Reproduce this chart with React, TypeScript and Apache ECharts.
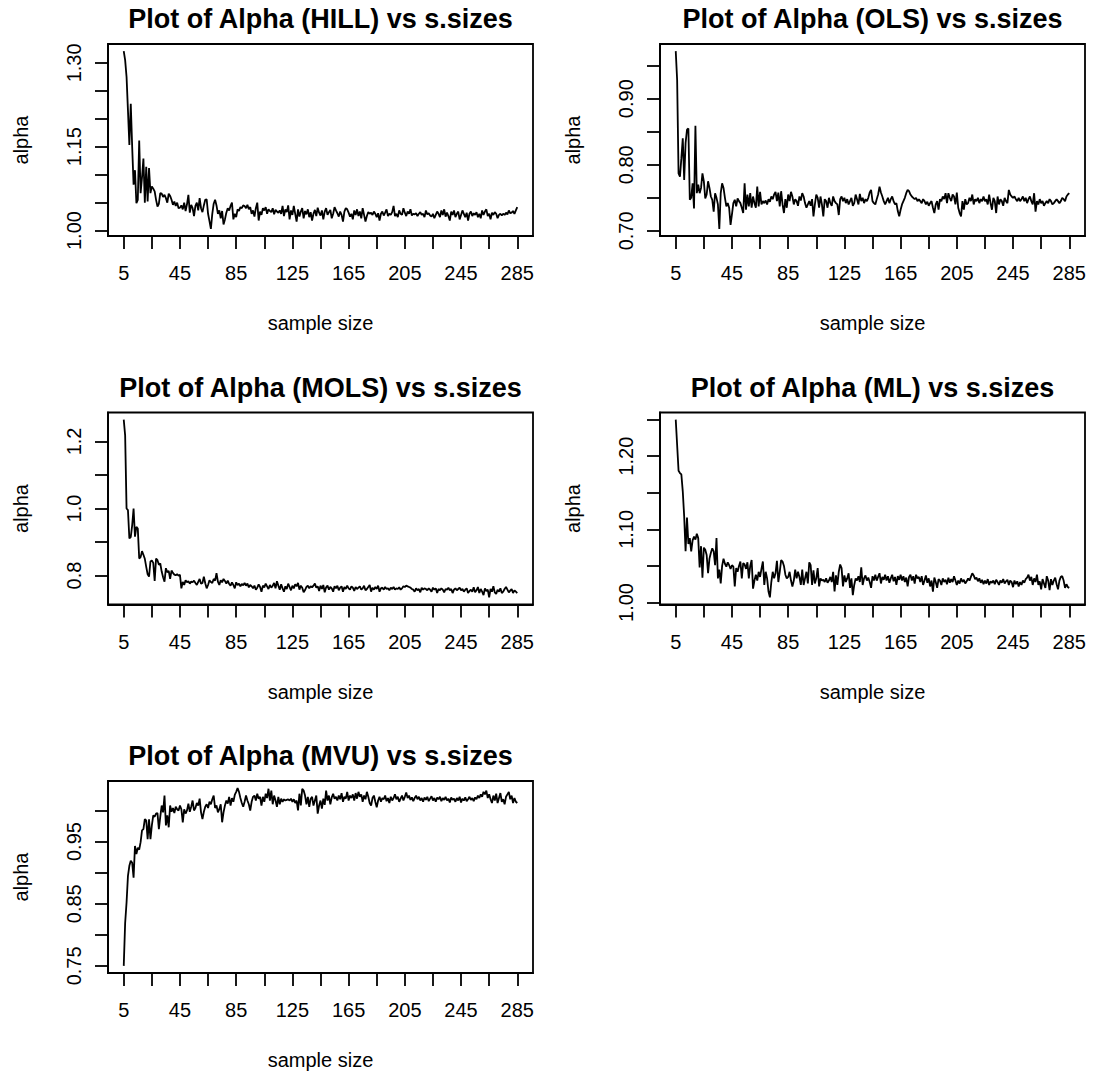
import { useEffect, useRef } from "react";
import * as echarts from "echarts";

// sample sizes 5..285
const sampleSizes: number[] = Array.from({ length: 281 }, (_, i) => 5 + i);
const xTickValues = [5, 25, 45, 65, 85, 105, 125, 145, 165, 185, 205, 225, 245, 265, 285];
const xLabelValues = [5, 45, 85, 125, 165, 205, 245, 285];

const alphaHill = [
  1.321, 1.305, 1.275, 1.215, 1.153, 1.227, 1.150, 1.082, 1.108, 1.049,
  1.055, 1.161, 1.067, 1.095, 1.129, 1.050, 1.114, 1.052, 1.112, 1.067,
  1.079, 1.075, 1.070, 1.055, 1.043, 1.048, 1.067, 1.066, 1.060, 1.064,
  1.058, 1.050, 1.066, 1.062, 1.055, 1.046, 1.052, 1.044, 1.050, 1.040,
  1.041, 1.045, 1.038, 1.050, 1.035, 1.047, 1.064, 1.032, 1.046, 1.040,
  1.026, 1.044, 1.050, 1.036, 1.058, 1.040, 1.033, 1.045, 1.055, 1.056,
  1.030, 1.017, 1.003, 1.030, 1.048, 1.055, 1.045, 1.030, 1.036, 1.022,
  1.035, 1.011, 1.020, 1.032, 1.040, 1.036, 1.044, 1.050, 1.020, 1.030,
  1.024, 1.038, 1.035, 1.042, 1.040, 1.045, 1.044, 1.040, 1.046, 1.038,
  1.042, 1.030, 1.036, 1.025, 1.040, 1.050, 1.018, 1.034, 1.028, 1.040,
  1.036, 1.042, 1.030, 1.038, 1.035, 1.033, 1.040, 1.029, 1.037, 1.034,
  1.032, 1.036, 1.030, 1.044, 1.026, 1.038, 1.033, 1.045, 1.020, 1.036,
  1.028, 1.044, 1.030, 1.016, 1.038, 1.025, 1.034, 1.040, 1.022, 1.035,
  1.029, 1.038, 1.024, 1.033, 1.018, 1.030, 1.037, 1.026, 1.041, 1.032,
  1.027, 1.036, 1.020, 1.034, 1.040, 1.028, 1.033, 1.037, 1.022, 1.030,
  1.042, 1.036, 1.031, 1.025, 1.034, 1.028, 1.016, 1.034, 1.040, 1.038,
  1.032, 1.025, 1.030, 1.020, 1.036, 1.028, 1.038, 1.026, 1.034, 1.022,
  1.040, 1.028, 1.016, 1.026, 1.033, 1.030, 1.032, 1.028, 1.034, 1.030,
  1.024, 1.031, 1.018, 1.030, 1.034, 1.027, 1.032, 1.038, 1.026, 1.030,
  1.028, 1.033, 1.044, 1.026, 1.030, 1.024, 1.036, 1.030, 1.028, 1.040,
  1.032, 1.026, 1.034, 1.030, 1.038, 1.027, 1.030, 1.029, 1.031, 1.026,
  1.030, 1.033, 1.028, 1.030, 1.024, 1.036, 1.029, 1.031, 1.027, 1.025,
  1.030, 1.022, 1.028, 1.034, 1.030, 1.024, 1.036, 1.028, 1.038, 1.025,
  1.032, 1.026, 1.018, 1.034, 1.028, 1.036, 1.024, 1.030, 1.034, 1.020,
  1.028, 1.036, 1.030, 1.024, 1.032, 1.018, 1.030, 1.034, 1.026, 1.031,
  1.028, 1.033, 1.024, 1.030, 1.022, 1.036, 1.028, 1.034, 1.038, 1.026,
  1.030, 1.020, 1.032, 1.028, 1.033, 1.030, 1.022, 1.028, 1.030, 1.027,
  1.030, 1.028, 1.032, 1.029, 1.036, 1.031, 1.032, 1.035, 1.030, 1.036,
  1.042,
];

const alphaOls = [
  0.972, 0.928, 0.787, 0.782, 0.810, 0.840, 0.777, 0.833, 0.853, 0.855,
  0.747, 0.750, 0.772, 0.734, 0.859, 0.757, 0.770, 0.757, 0.765, 0.787,
  0.775, 0.749, 0.755, 0.775, 0.765, 0.752, 0.747, 0.729, 0.757, 0.750,
  0.740, 0.703, 0.757, 0.772, 0.765, 0.750, 0.737, 0.742, 0.735, 0.709,
  0.725, 0.742, 0.747, 0.737, 0.749, 0.745, 0.742, 0.735, 0.727, 0.772,
  0.732, 0.755, 0.737, 0.757, 0.735, 0.752, 0.742, 0.735, 0.767, 0.737,
  0.759, 0.740, 0.745, 0.742, 0.746, 0.740, 0.748, 0.744, 0.752, 0.748,
  0.755, 0.759, 0.745, 0.758, 0.737, 0.760, 0.740, 0.727, 0.748, 0.735,
  0.755, 0.745, 0.759, 0.752, 0.740, 0.748, 0.745, 0.738, 0.752, 0.746,
  0.757, 0.752, 0.742, 0.735, 0.740, 0.745, 0.738, 0.748, 0.722, 0.740,
  0.755, 0.750, 0.735, 0.752, 0.740, 0.722, 0.748, 0.745, 0.735, 0.750,
  0.742, 0.738, 0.752, 0.745, 0.742, 0.740, 0.724, 0.748, 0.752, 0.745,
  0.750, 0.742, 0.748, 0.740, 0.745, 0.750, 0.738, 0.742, 0.755, 0.748,
  0.740, 0.756, 0.745, 0.750, 0.742, 0.748, 0.745, 0.750, 0.758, 0.762,
  0.745, 0.742, 0.740, 0.748, 0.755, 0.767, 0.758, 0.752, 0.745, 0.740,
  0.745, 0.750, 0.742, 0.748, 0.752, 0.745, 0.740, 0.742, 0.730, 0.722,
  0.732, 0.740, 0.745, 0.750, 0.757, 0.762, 0.760, 0.755, 0.752, 0.750,
  0.748, 0.750, 0.745, 0.748, 0.745, 0.742, 0.748, 0.745, 0.740, 0.744,
  0.738, 0.742, 0.745, 0.735, 0.727, 0.740, 0.745, 0.732, 0.748, 0.745,
  0.752, 0.748, 0.757, 0.742, 0.757, 0.750, 0.745, 0.755, 0.752, 0.740,
  0.758, 0.735, 0.727, 0.722, 0.745, 0.732, 0.748, 0.740, 0.742, 0.750,
  0.745, 0.755, 0.740, 0.748, 0.745, 0.750, 0.742, 0.748, 0.745, 0.752,
  0.745, 0.748, 0.740, 0.755, 0.742, 0.732, 0.750, 0.745, 0.727, 0.752,
  0.740, 0.748, 0.745, 0.738, 0.750, 0.745, 0.742, 0.762, 0.755, 0.752,
  0.750, 0.752, 0.748, 0.745, 0.750, 0.745, 0.748, 0.752, 0.745, 0.750,
  0.742, 0.748, 0.752, 0.745, 0.740, 0.757, 0.729, 0.745, 0.740, 0.748,
  0.742, 0.745, 0.738, 0.742, 0.745, 0.742, 0.748, 0.745, 0.740, 0.742,
  0.745, 0.748, 0.745, 0.742, 0.745, 0.750, 0.748, 0.745, 0.752, 0.755,
  0.757,
];

const alphaMols = [
  1.265, 1.218, 1.000, 0.995, 0.911, 0.915, 0.950, 1.000, 0.916, 0.945,
  0.940, 0.851, 0.855, 0.873, 0.862, 0.850, 0.826, 0.804, 0.797, 0.842,
  0.845, 0.838, 0.784, 0.851, 0.846, 0.832, 0.836, 0.812, 0.795, 0.782,
  0.822, 0.810, 0.814, 0.790, 0.815, 0.808, 0.803, 0.801, 0.804, 0.800,
  0.802, 0.762, 0.781, 0.772, 0.786, 0.780, 0.783, 0.776, 0.782, 0.780,
  0.785, 0.778, 0.772, 0.781, 0.790, 0.776, 0.778, 0.797, 0.777, 0.762,
  0.772, 0.786, 0.781, 0.778, 0.790, 0.785, 0.807, 0.782, 0.772, 0.786,
  0.780, 0.790, 0.784, 0.776, 0.785, 0.775, 0.770, 0.780, 0.772, 0.762,
  0.780, 0.772, 0.776, 0.768, 0.775, 0.771, 0.778, 0.770, 0.776, 0.765,
  0.772, 0.768, 0.762, 0.770, 0.758, 0.764, 0.774, 0.766, 0.752, 0.770,
  0.765, 0.776, 0.768, 0.760, 0.772, 0.764, 0.770, 0.778, 0.762, 0.783,
  0.770, 0.758, 0.774, 0.762, 0.752, 0.768, 0.760, 0.776, 0.766, 0.756,
  0.770, 0.762, 0.774, 0.768, 0.778, 0.758, 0.770, 0.764, 0.750, 0.757,
  0.766, 0.770, 0.762, 0.768, 0.765, 0.770, 0.776, 0.764, 0.768, 0.754,
  0.770, 0.760, 0.772, 0.750, 0.765, 0.770, 0.758, 0.766, 0.762, 0.752,
  0.768, 0.762, 0.770, 0.756, 0.764, 0.768, 0.752, 0.766, 0.760, 0.770,
  0.762, 0.758, 0.768, 0.764, 0.754, 0.766, 0.760, 0.764, 0.768, 0.758,
  0.762, 0.770, 0.756, 0.760, 0.766, 0.772, 0.752, 0.764, 0.758, 0.766,
  0.760, 0.770, 0.752, 0.762, 0.764, 0.758, 0.766, 0.760, 0.762, 0.756,
  0.764, 0.760, 0.766, 0.758, 0.762, 0.760, 0.765, 0.758, 0.762, 0.768,
  0.766, 0.770, 0.768, 0.766, 0.764, 0.760, 0.758, 0.752, 0.762, 0.756,
  0.760, 0.750, 0.764, 0.758, 0.762, 0.760, 0.756, 0.762, 0.758, 0.752,
  0.764, 0.758, 0.762, 0.748, 0.760, 0.756, 0.762, 0.758, 0.750, 0.760,
  0.758, 0.764, 0.756, 0.760, 0.748, 0.758, 0.762, 0.756, 0.760, 0.764,
  0.756, 0.760, 0.752, 0.758, 0.762, 0.748, 0.754, 0.758, 0.752, 0.765,
  0.750, 0.756, 0.766, 0.748, 0.760, 0.752, 0.742, 0.762, 0.754, 0.758,
  0.735, 0.760, 0.752, 0.768, 0.750, 0.745, 0.758, 0.752, 0.762, 0.748,
  0.752, 0.760, 0.766, 0.758, 0.750, 0.755, 0.760, 0.748, 0.756, 0.752,
  0.748,
];

const alphaMl = [
  1.250, 1.215, 1.180, 1.177, 1.175, 1.152, 1.118, 1.070, 1.116, 1.080,
  1.088, 1.070, 1.085, 1.090, 1.086, 1.094, 1.088, 1.048, 1.077, 1.034,
  1.075, 1.072, 1.065, 1.040, 1.060, 1.068, 1.074, 1.070, 1.051, 1.088,
  1.033, 1.045, 1.026, 1.050, 1.060, 1.053, 1.049, 1.055, 1.051, 1.046,
  1.051, 1.049, 1.022, 1.047, 1.042, 1.050, 1.056, 1.033, 1.054, 1.052,
  1.046, 1.055, 1.033, 1.050, 1.058, 1.019, 1.030, 1.038, 1.030, 1.042,
  1.035, 1.046, 1.056, 1.024, 1.042, 1.033, 1.015, 1.007, 1.028, 1.042,
  1.033, 1.040, 1.057, 1.028, 1.042, 1.058, 1.056, 1.050, 1.038, 1.033,
  1.035, 1.042, 1.030, 1.022, 1.030, 1.045, 1.033, 1.042, 1.035, 1.024,
  1.045, 1.024, 1.033, 1.042, 1.026, 1.055, 1.051, 1.024, 1.044, 1.026,
  1.033, 1.047, 1.022, 1.033, 1.030, 1.031, 1.028, 1.033, 1.027, 1.030,
  1.035, 1.028, 1.042, 1.015, 1.037, 1.024, 1.042, 1.052, 1.047, 1.022,
  1.037, 1.028, 1.033, 1.040, 1.020, 1.033, 1.010, 1.024, 1.033, 1.030,
  1.036, 1.028, 1.048, 1.024, 1.033, 1.037, 1.030, 1.034, 1.028, 1.020,
  1.036, 1.030, 1.038, 1.030, 1.035, 1.040, 1.026, 1.035, 1.031, 1.038,
  1.030, 1.036, 1.027, 1.033, 1.038, 1.029, 1.035, 1.024, 1.036, 1.031,
  1.038, 1.030, 1.036, 1.028, 1.034, 1.022, 1.035, 1.038, 1.030, 1.036,
  1.026, 1.038, 1.033, 1.035, 1.028, 1.036, 1.024, 1.030, 1.037, 1.027,
  1.033, 1.022, 1.030, 1.015, 1.034, 1.028, 1.020, 1.032, 1.030, 1.024,
  1.033, 1.028, 1.031, 1.025, 1.034, 1.027, 1.032, 1.028, 1.036, 1.030,
  1.024, 1.030, 1.026, 1.033, 1.028, 1.031, 1.026, 1.029, 1.033, 1.030,
  1.035, 1.040, 1.037, 1.032, 1.034, 1.029, 1.033, 1.027, 1.031, 1.025,
  1.030, 1.026, 1.032, 1.024, 1.029, 1.027, 1.030, 1.025, 1.031, 1.028,
  1.024, 1.030, 1.027, 1.032, 1.026, 1.029, 1.031, 1.024, 1.030, 1.028,
  1.021, 1.030, 1.025, 1.029, 1.022, 1.028, 1.024, 1.030, 1.027, 1.032,
  1.034, 1.038, 1.030, 1.035, 1.024, 1.033, 1.028, 1.038, 1.024, 1.029,
  1.018, 1.032, 1.026, 1.020, 1.036, 1.030, 1.017, 1.032, 1.024, 1.030,
  1.034, 1.025, 1.018, 1.030, 1.035, 1.036, 1.030, 1.020, 1.025, 1.021,
  1.020,
];

const alphaMvu = [
  0.750, 0.819, 0.852, 0.895, 0.911, 0.919, 0.916, 0.892, 0.943, 0.930,
  0.940, 0.937, 0.949, 0.968, 0.970, 0.986, 0.984, 0.954, 0.986, 0.954,
  0.976, 0.992, 0.990, 0.995, 0.996, 0.970, 0.990, 1.008, 0.997, 1.024,
  0.976, 0.992, 0.973, 1.008, 0.998, 1.004, 0.996, 1.006, 1.002, 1.000,
  1.008, 1.002, 0.981, 1.002, 0.995, 1.000, 1.011, 0.998, 1.006, 1.016,
  1.000, 1.004, 1.012, 1.008, 1.019, 0.997, 0.986, 0.998, 1.006, 1.010,
  1.004, 1.014, 1.010, 1.018, 1.024, 1.004, 1.008, 0.997, 1.002, 1.010,
  0.981, 0.997, 1.008, 1.016, 1.011, 1.022, 1.008, 1.020, 1.014, 1.025,
  1.030, 1.036, 1.030, 1.020, 1.012, 1.006, 1.014, 1.024, 1.016, 1.010,
  1.000, 1.014, 1.022, 1.024, 1.016, 1.027, 1.019, 1.022, 1.008, 1.022,
  1.014, 1.027, 1.020, 1.035, 1.016, 1.032, 1.010, 1.024, 1.016, 1.006,
  1.022, 1.010, 1.019, 1.014, 1.018, 1.016, 1.017, 1.018, 1.016, 1.019,
  1.014, 1.018, 1.012, 1.016, 1.000, 1.027, 1.008, 1.035, 1.032, 1.024,
  1.010, 1.022, 1.006, 1.019, 1.022, 1.008, 1.016, 1.024, 0.995, 1.008,
  1.016, 1.003, 1.019, 1.009, 1.032, 1.016, 1.024, 1.010, 1.021, 1.027,
  1.019, 1.022, 1.016, 1.024, 1.018, 1.028, 1.014, 1.022, 1.019, 1.030,
  1.016, 1.024, 1.020, 1.026, 1.016, 1.028, 1.019, 1.030, 1.022, 1.026,
  1.014, 1.024, 1.018, 1.030, 1.022, 1.012, 1.008, 1.020, 1.024, 1.014,
  1.005, 1.016, 1.022, 1.014, 1.020, 1.018, 1.024, 1.015, 1.020, 1.012,
  1.022, 1.016, 1.020, 1.026, 1.018, 1.022, 1.014, 1.019, 1.024, 1.016,
  1.022, 1.029, 1.020, 1.024, 1.017, 1.021, 1.015, 1.020, 1.024, 1.018,
  1.022, 1.016, 1.020, 1.014, 1.021, 1.017, 1.022, 1.015, 1.019, 1.023,
  1.016, 1.020, 1.014, 1.021, 1.018, 1.022, 1.015, 1.020, 1.017, 1.022,
  1.016, 1.019, 1.013, 1.021, 1.017, 1.019, 1.014, 1.020, 1.016, 1.022,
  1.013, 1.019, 1.016, 1.021, 1.015, 1.018, 1.022, 1.017, 1.020, 1.015,
  1.021, 1.018, 1.024, 1.020, 1.026, 1.022, 1.030, 1.026, 1.032, 1.020,
  1.026, 1.018, 1.012, 1.024, 1.016, 1.027, 1.012, 1.020, 1.028, 1.014,
  1.018, 1.010, 1.022, 1.026, 1.030, 1.018, 1.024, 1.012, 1.020, 1.014,
  1.012,
];

const hillTicks = [1.0, 1.05, 1.1, 1.15, 1.2, 1.25, 1.3];
const hillLabels = [1.0, 1.15, 1.3];
const olsTicks = [0.7, 0.75, 0.8, 0.85, 0.9, 0.95];
const olsLabels = [0.7, 0.8, 0.9];
const molsTicks = [0.8, 0.9, 1.0, 1.1, 1.2];
const molsLabels = [0.8, 1.0, 1.2];
const mlTicks = [1.0, 1.05, 1.1, 1.15, 1.2, 1.25];
const mlLabels = [1.0, 1.1, 1.2];
const mvuTicks = [0.75, 0.8, 0.85, 0.9, 0.95, 1.0];
const mvuLabels = [0.75, 0.85, 0.95];

const titles = [
  "Plot of Alpha (HILL) vs s.sizes",
  "Plot of Alpha (OLS) vs s.sizes",
  "Plot of Alpha (MOLS) vs s.sizes",
  "Plot of Alpha (ML) vs s.sizes",
  "Plot of Alpha (MVU) vs s.sizes",
];

const FONT = "'Liberation Sans', Arial, Helvetica, sans-serif";

export default function App() {
  const ref = useRef<HTMLDivElement>(null);

  useEffect(() => {
    if (!ref.current) return;
    const chart = echarts.init(ref.current, null, { renderer: "svg" });

    const panels = [
      { title: titles[0], data: alphaHill, ticks: hillTicks, labels: hillLabels, dec: 2 },
      { title: titles[1], data: alphaOls, ticks: olsTicks, labels: olsLabels, dec: 2 },
      { title: titles[2], data: alphaMols, ticks: molsTicks, labels: molsLabels, dec: 1 },
      { title: titles[3], data: alphaMl, ticks: mlTicks, labels: mlLabels, dec: 2 },
      { title: titles[4], data: alphaMvu, ticks: mvuTicks, labels: mvuLabels, dec: 2 },
    ];

    const xLo = Math.min(...sampleSizes);
    const xHi = Math.max(...sampleSizes);
    const xPad = (xHi - xLo) * 0.04;

    const grid: any[] = [];
    const xAxis: any[] = [];
    const yAxis: any[] = [];
    const series: any[] = [];
    const graphic: any[] = [];

    const boxW = 425;
    const boxH = 192;
    const LW = 1.8;

    panels.forEach((p, i) => {
      const col = i % 2;
      const row = Math.floor(i / 2);
      const left = 108 + col * 552;
      const top = 44 + row * 368.5;
      grid.push({
        left,
        top,
        width: boxW,
        height: boxH,
        show: true,
        borderColor: "#000",
        borderWidth: LW,
        backgroundColor: "transparent",
        containLabel: false,
      });
      const lo = Math.min(...p.data);
      const hi = Math.max(...p.data);
      const pad = (hi - lo) * 0.04;
      xAxis.push({
        type: "value",
        gridIndex: i,
        min: xLo - xPad,
        max: xHi + xPad,
        axisLine: { show: true, onZero: false, lineStyle: { color: "#000", width: LW } },
        axisTick: {
          show: true,
          length: 13,
          inside: false,
          customValues: xTickValues,
          lineStyle: { color: "#000", width: LW },
        },
        axisLabel: {
          show: true,
          customValues: xLabelValues,
          margin: 27,
          color: "#000",
          fontSize: 20,
          fontFamily: FONT,
        },
        splitLine: { show: false },
        name: "sample size",
        nameLocation: "middle",
        nameGap: 77,
        nameTextStyle: { color: "#000", fontSize: 20, fontFamily: FONT },
      });
      yAxis.push({
        type: "value",
        gridIndex: i,
        min: lo - pad,
        max: hi + pad,
        axisLine: { show: true, onZero: false, lineStyle: { color: "#000", width: LW } },
        axisTick: {
          show: true,
          length: 13,
          inside: false,
          customValues: p.ticks,
          lineStyle: { color: "#000", width: LW },
        },
        axisLabel: {
          show: true,
          customValues: p.labels,
          rotate: 90,
          margin: 24,
          color: "#000",
          fontSize: 20,
          fontFamily: FONT,
          formatter: (v: number) => v.toFixed(p.dec),
        },
        splitLine: { show: false },
        name: "alpha",
        nameLocation: "middle",
        nameRotate: 90,
        nameGap: 77,
        nameTextStyle: { color: "#000", fontSize: 20, fontFamily: FONT },
      });
      series.push({
        type: "line",
        xAxisIndex: i,
        yAxisIndex: i,
        data: sampleSizes.map((x, j) => [x, p.data[j]]),
        showSymbol: false,
        symbol: "none",
        lineStyle: { color: "#000", width: 1.8 },
        silent: true,
        clip: false,
      });
      graphic.push({
        type: "text",
        x: left + boxW / 2,
        y: 19 + row * 368.5,
        style: {
          text: p.title,
          fill: "#000",
          fontSize: 27,
          fontWeight: "bold",
          fontFamily: FONT,
          align: "center",
          verticalAlign: "middle",
        },
      });
    });

    chart.setOption({
      animation: false,
      backgroundColor: "#fff",
      grid,
      xAxis,
      yAxis,
      series,
      graphic,
    });

    return () => {
      chart.dispose();
    };
  }, []);

  return (
    <div
      ref={ref}
      style={{ position: "absolute", left: 0, top: 0, width: 1094, height: 1074, background: "#fff" }}
    />
  );
}
